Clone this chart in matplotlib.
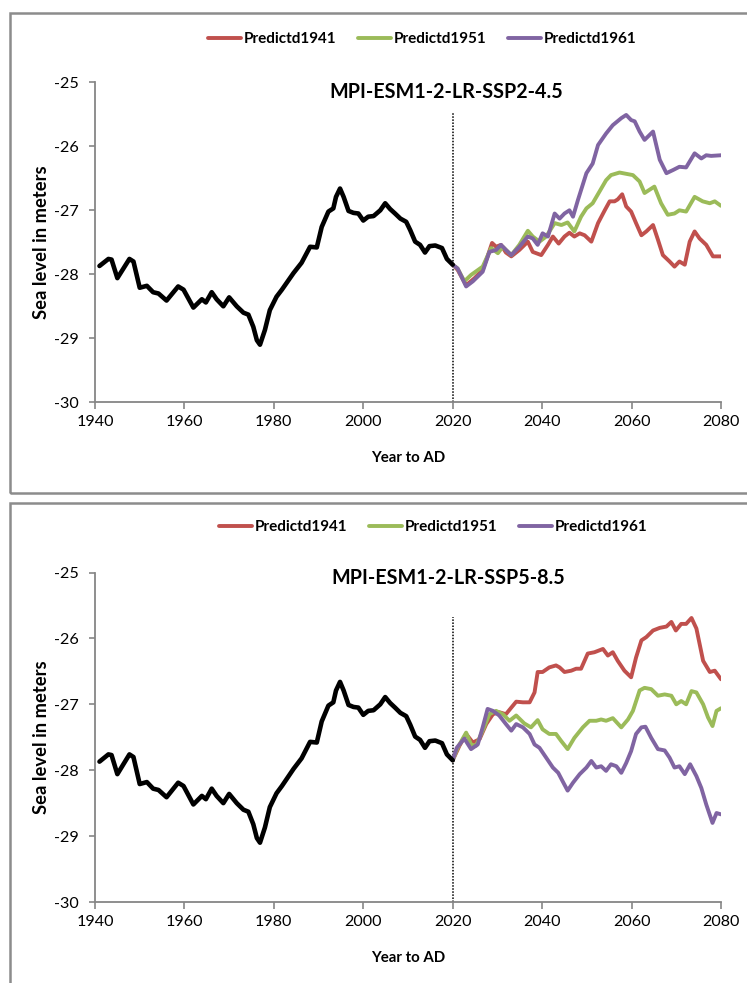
import matplotlib
matplotlib.use("Agg")
import matplotlib.pyplot as plt
from matplotlib import font_manager as fm
from matplotlib.patches import Rectangle

# ---------------- data ----------------
hist_years = [1941, 1943, 1943.7, 1945, 1947.7, 1948.6, 1950, 1951.6, 1953, 1954.2,
              1956, 1958.6, 1959.8, 1962, 1963.9, 1964.8, 1966.1, 1967.2, 1968.7, 1970,
              1971.7, 1973.2, 1974.3, 1975.4, 1976.2, 1976.9, 1978, 1979.1, 1980.6, 1981.8,
              1983.2, 1984.4, 1986.2, 1988.1, 1989.6, 1990.7, 1992.2, 1993.3, 1993.9, 1994.8,
              1995.6, 1996.7, 1997.8, 1998.9, 2000, 2001.1, 2002.3, 2003.8, 2004.9, 2006,
              2007.1, 2008.3, 2009.6, 2010.5, 2011.6, 2012.7, 2013.8, 2014.8, 2016.1, 2017.6,
              2018.7, 2020]
hist_vals = [-27.87, -27.76, -27.77, -28.06, -27.76, -27.80, -28.21, -28.18, -28.28, -28.30,
             -28.41, -28.19, -28.24, -28.52, -28.39, -28.44, -28.28, -28.39, -28.50, -28.36,
             -28.50, -28.60, -28.63, -28.82, -29.03, -29.10, -28.87, -28.56, -28.35, -28.24,
             -28.10, -27.98, -27.82, -27.57, -27.58, -27.26, -27.02, -26.97, -26.79, -26.66,
             -26.79, -27.01, -27.04, -27.05, -27.16, -27.10, -27.09, -27.00, -26.89, -26.98,
             -27.05, -27.13, -27.18, -27.31, -27.49, -27.54, -27.66, -27.56, -27.55, -27.59,
             -27.76, -27.85]

# SSP2-4.5
ssp245_1941_years = [2020, 2021.1, 2023, 2024.9, 2026.7, 2027.8, 2028.8, 2029.7, 2030.8, 2031.9,
                     2033.1, 2034.9, 2036.8, 2037.9, 2039.8, 2041.3, 2042.4, 2043.7, 2045, 2046.1,
                     2047.2, 2048.4, 2049.5, 2051, 2052.5, 2054, 2055.1, 2056.2, 2056.9, 2057.9,
                     2058.8, 2059.9, 2061, 2062.2, 2063.3, 2064.8, 2065.9, 2067, 2068.5, 2069.6,
                     2070.7, 2071.9, 2073, 2074.1, 2075.2, 2076.7, 2078.2, 2080]
ssp245_1941_vals = [-27.85, -27.93, -28.17, -28.06, -27.93, -27.72, -27.51, -27.57, -27.54, -27.66,
                    -27.72, -27.62, -27.49, -27.65, -27.70, -27.54, -27.41, -27.52, -27.41, -27.35,
                    -27.41, -27.36, -27.39, -27.49, -27.20, -27.00, -26.86, -26.86, -26.83, -26.75,
                    -26.94, -27.02, -27.20, -27.39, -27.33, -27.23, -27.46, -27.70, -27.80, -27.88,
                    -27.80, -27.85, -27.49, -27.33, -27.44, -27.54, -27.72, -27.72]
ssp245_1951_years = [2020, 2021.1, 2022.6, 2024.1, 2026.7, 2028.6, 2030.1, 2031.2, 2033.1, 2034.9,
                     2036.8, 2037.9, 2039.4, 2040.9, 2042.8, 2044.3, 2045.7, 2047.2, 2048.7, 2049.9,
                     2051.3, 2052.8, 2054.3, 2055.4, 2057.3, 2058.8, 2060.3, 2061.8, 2062.9, 2064,
                     2065.1, 2066.6, 2068.1, 2069.6, 2070.7, 2072.2, 2074.1, 2075.9, 2077.5, 2078.6,
                     2080]
ssp245_1951_vals = [-27.85, -27.91, -28.11, -28.01, -27.88, -27.59, -27.67, -27.57, -27.70, -27.54,
                    -27.32, -27.41, -27.49, -27.41, -27.20, -27.23, -27.19, -27.33, -27.10, -26.97,
                    -26.89, -26.71, -26.53, -26.45, -26.41, -26.43, -26.45, -26.55, -26.73, -26.68,
                    -26.63, -26.89, -27.07, -27.05, -27.00, -27.02, -26.79, -26.86, -26.89, -26.86,
                    -26.93]
ssp245_1961_years = [2020, 2021.1, 2023, 2024.5, 2026.7, 2028.2, 2029.7, 2030.8, 2031.9, 2033.1,
                     2034.9, 2036.8, 2037.9, 2039, 2040.1, 2041.3, 2042.8, 2043.9, 2045, 2046.1,
                     2046.9, 2048, 2049.9, 2051.3, 2052.5, 2054.3, 2055.8, 2057.7, 2058.8, 2059.9,
                     2060.7, 2061.8, 2062.9, 2064.8, 2066.3, 2067.8, 2069.3, 2070.7, 2072.2, 2074.1,
                     2075.6, 2076.7, 2077.8, 2080]
ssp245_1961_vals = [-27.85, -27.91, -28.19, -28.11, -27.96, -27.65, -27.62, -27.54, -27.62, -27.70,
                    -27.57, -27.41, -27.44, -27.54, -27.36, -27.41, -27.05, -27.13, -27.05, -27.00,
                    -27.10, -26.84, -26.42, -26.27, -25.98, -25.80, -25.67, -25.56, -25.51, -25.59,
                    -25.61, -25.77, -25.90, -25.77, -26.21, -26.42, -26.37, -26.32, -26.33, -26.11,
                    -26.19, -26.14, -26.15, -26.14]

# SSP5-8.5
ssp585_1941_years = [2020, 2021.5, 2023, 2024.5, 2026, 2027.5, 2029, 2030.4, 2031.9, 2033.1,
                     2034.2, 2035.7, 2037.2, 2038.3, 2039, 2040.1, 2041.6, 2043.1, 2043.9, 2045,
                     2046.5, 2047.6, 2048.7, 2050.2, 2051.7, 2053.6, 2054.7, 2055.8, 2056.9, 2058.4,
                     2059.9, 2061, 2062.2, 2063.3, 2064.8, 2066.3, 2067.8, 2068.9, 2069.9, 2071.1,
                     2072.2, 2073.4, 2074.5, 2076, 2077.5, 2078.6, 2080]
ssp585_1941_vals = [-27.85, -27.63, -27.45, -27.58, -27.53, -27.30, -27.15, -27.12, -27.15, -27.05,
                    -26.96, -26.97, -26.97, -26.82, -26.51, -26.51, -26.44, -26.41, -26.44, -26.51,
                    -26.49, -26.46, -26.46, -26.23, -26.21, -26.16, -26.26, -26.21, -26.34, -26.49,
                    -26.59, -26.29, -26.03, -25.98, -25.88, -25.84, -25.82, -25.75, -25.88, -25.78,
                    -25.78, -25.69, -25.85, -26.34, -26.51, -26.49, -26.62]
ssp585_1951_years = [2020, 2021.1, 2023, 2024.1, 2025.2, 2026.7, 2028.2, 2029.7, 2031.2, 2032.7,
                     2034.2, 2036, 2037.5, 2039, 2040.1, 2041.6, 2043.1, 2044.3, 2045.7, 2047.2,
                     2049.1, 2050.6, 2052.1, 2053.2, 2054.3, 2055.8, 2057.7, 2059.2, 2060.3, 2061.8,
                     2062.9, 2064.4, 2065.9, 2067.4, 2068.9, 2070, 2071.1, 2072.2, 2073.4, 2074.5,
                     2076, 2077.1, 2078.1, 2079, 2080]
ssp585_1951_vals = [-27.85, -27.66, -27.43, -27.61, -27.63, -27.40, -27.15, -27.10, -27.15, -27.25,
                    -27.17, -27.29, -27.35, -27.24, -27.38, -27.45, -27.45, -27.56, -27.68, -27.51,
                    -27.35, -27.25, -27.25, -27.23, -27.25, -27.21, -27.35, -27.23, -27.10, -26.79,
                    -26.75, -26.77, -26.87, -26.85, -26.87, -27.00, -26.95, -27.00, -26.80, -26.82,
                    -27.00, -27.20, -27.33, -27.10, -27.06]
ssp585_1961_years = [2020, 2020.9, 2022.6, 2024.1, 2025.6, 2026.7, 2027.8, 2029, 2030.4, 2031.9,
                     2033.1, 2034.2, 2035.7, 2037.2, 2038.3, 2039.4, 2040.9, 2042.4, 2043.6, 2044.6,
                     2045.7, 2046.9, 2048.4, 2049.9, 2051, 2052.1, 2053.2, 2054.3, 2055.4, 2056.6,
                     2057.7, 2058.8, 2059.9, 2061, 2062.2, 2063.1, 2064.4, 2065.9, 2067.4, 2068.5,
                     2069.6, 2070.7, 2071.9, 2073.1, 2074.5, 2075.6, 2076.7, 2078.1, 2079, 2080]
ssp585_1961_vals = [-27.85, -27.66, -27.52, -27.68, -27.61, -27.35, -27.07, -27.10, -27.17, -27.30,
                    -27.40, -27.30, -27.35, -27.45, -27.61, -27.66, -27.81, -27.96, -28.04, -28.17,
                    -28.31, -28.19, -28.06, -27.96, -27.86, -27.96, -27.94, -28.01, -27.91, -27.94,
                    -28.04, -27.89, -27.71, -27.45, -27.35, -27.34, -27.51, -27.68, -27.70, -27.81,
                    -27.96, -27.94, -28.06, -27.91, -28.09, -28.27, -28.52, -28.80, -28.65, -28.67]

series_names = ["Predictd1941", "Predictd1951", "Predictd1961"]
panel_titles = ["MPI-ESM1-2-LR-SSP2-4.5", "MPI-ESM1-2-LR-SSP5-8.5"]
x_ticks = [1940, 1960, 1980, 2000, 2020, 2040, 2060, 2080]
y_ticks = [-30, -29, -28, -27, -26, -25]
split_year = 2020

panels = [
    [(ssp245_1941_years, ssp245_1941_vals), (ssp245_1951_years, ssp245_1951_vals),
     (ssp245_1961_years, ssp245_1961_vals)],
    [(ssp585_1941_years, ssp585_1941_vals), (ssp585_1951_years, ssp585_1951_vals),
     (ssp585_1961_years, ssp585_1961_vals)],
]

# ---------------- style ----------------
names = {f.name for f in fm.fontManager.ttflist}
FONT = "Lato" if "Lato" in names else "DejaVu Sans"
plt.rcParams["font.family"] = [FONT, "DejaVu Sans"]
plt.rcParams["axes.unicode_minus"] = False

colors = ["#C0504D", "#9BBB59", "#8064A2"]
gray = "#868686"

W, H = 747, 983
fig = plt.figure(figsize=(W / 100, H / 100), dpi=100)

# outer chart boxes (pixel geometry)
for (top, bot) in [(13, 493), (503, 1000)]:
    fig.patches.append(Rectangle((10 / W, 1 - bot / H), (W + 20) / W, (bot - top) / H,
                                 transform=fig.transFigure, fill=False,
                                 edgecolor="#8c8c8c", linewidth=1.8, clip_on=False))

axes_px = [(82.3, 402.3), (572.5, 902.0)]   # y of -25 and -30
legend_px = [(422, 39), (433, 527)]
title_px = [(446, 92), (448, 578)]
vline_top = [-25.48, -25.68]
left_px, right_px = 95, 721

for i, (ytop, ybot) in enumerate(axes_px):
    ax = fig.add_axes([left_px / W, 1 - ybot / H, (right_px - left_px) / W, (ybot - ytop) / H])
    ax.set_xlim(1940, 2080)
    ax.set_ylim(-30, -25)
    for s in ["top", "right"]:
        ax.spines[s].set_visible(False)
    for s in ["left", "bottom"]:
        ax.spines[s].set_color(gray)
        ax.spines[s].set_linewidth(1.3)
    ax.set_xticks(x_ticks)
    ax.set_xticklabels([str(v) for v in x_ticks])
    ax.set_yticks(y_ticks)
    ax.set_yticklabels([str(v) for v in y_ticks])
    ax.tick_params(axis="x", direction="out", length=5, width=1.2, color=gray,
                   labelsize=11.6, pad=4)
    ax.tick_params(axis="y", direction="out", length=4, width=1.2, color=gray,
                   labelsize=11.6, pad=8)
    ax.patch.set_alpha(0)

    ax.vlines(split_year, -30, vline_top[i], colors="black", linestyles=(0, (1, 1)),
              linewidth=1.1, zorder=2)

    handles = []
    for (yrs, vals), c, nm in zip(panels[i], colors, series_names):
        ln, = ax.plot(yrs, vals, color=c, linewidth=2.8, solid_joinstyle="round",
                      solid_capstyle="round", label=nm, zorder=3)
        handles.append(ln)
    ax.plot(hist_years, hist_vals, color="black", linewidth=3.3, solid_joinstyle="round",
            solid_capstyle="round", zorder=4)

    ax.set_xlabel("Year to AD", fontsize=10.8, fontweight="bold")
    ax.xaxis.label.set_va("center")
    ax.xaxis.set_label_coords(0.5, -(458 - 402.3) / (ybot - ytop))
    ax.set_ylabel("Sea level in meters", fontsize=13.2, fontweight="bold")
    ax.yaxis.label.set_va("center")
    ax.yaxis.set_label_coords(-(95 - 42) / (right_px - left_px), 0.5)

    tx, ty = title_px[i]
    fig.text(tx / W, 1 - ty / H, panel_titles[i], ha="center", va="center",
             fontsize=14.2, fontweight="bold")

    lx, ly = legend_px[i]
    fig.legend(handles=handles, labels=series_names, loc="center",
               bbox_to_anchor=(lx / W, 1 - ly / H), ncol=3, frameon=False,
               prop={"size": 11.0, "weight": "bold"}, handlelength=2.2,
               handletextpad=0.15, columnspacing=1.4)

fig.savefig("out.png", dpi=100)
